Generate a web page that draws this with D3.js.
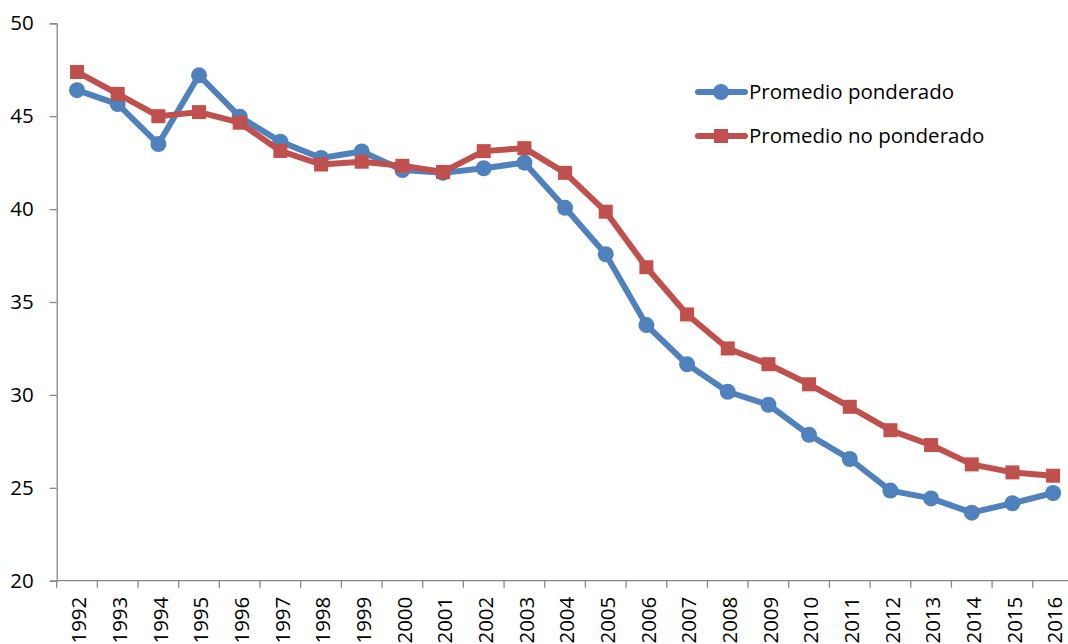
<!DOCTYPE html>
<html><head><meta charset="utf-8">
<script src="https://cdn.jsdelivr.net/npm/d3@7"></script>
<style>
body{margin:0;background:#fff;}
svg{display:block;font-family:"Open Sans",sans-serif;}
</style></head>
<body><svg id="c" width="1068" height="644"></svg>
<script>
const years = ["1992","1993","1994","1995","1996","1997","1998","1999","2000","2001","2002","2003","2004","2005","2006","2007","2008","2009","2010","2011","2012","2013","2014","2015","2016"];
const ponderado = [46.4,45.65,43.5,47.2,44.97,43.63,42.75,43.1,42.1,41.95,42.2,42.5,40.07,37.57,33.76,31.65,30.17,29.47,27.85,26.55,24.85,24.43,23.66,24.17,24.72];
const noPonderado = [47.38,46.2,45.0,45.22,44.65,43.13,42.4,42.55,42.33,42.0,43.12,43.28,41.95,39.86,36.87,34.33,32.5,31.65,30.57,29.36,28.1,27.3,26.26,25.83,25.65];
const yTicks = [20,25,30,35,40,45,50];
const seriesNames = ["Promedio ponderado","Promedio no ponderado"];
const colors = ["#4F81BD","#C0504D"];

const FONT = '"Open Sans",sans-serif';
const FS = 20.5;
const svg = d3.select("#c");
const x0 = 56.7, bw = 40.67;
const x = d3.scaleBand().domain(years).range([x0, x0 + bw*years.length]).padding(0);
const y = d3.scaleLinear().domain([20,50]).range([580.7, 23.3]);
const axisColor = "#868686";

// Y axis
const ya = svg.append("g").attr("transform",`translate(${x0},0)`)
  .call(d3.axisLeft(y).tickValues(yTicks).tickSize(7).tickPadding(16).tickFormat(d3.format("d")));
ya.select(".domain").attr("stroke",axisColor).attr("stroke-width",1.3);
ya.selectAll(".tick line").attr("stroke",axisColor).attr("stroke-width",1.3);
ya.selectAll(".tick text").attr("font-size",FS).attr("fill","#000").attr("font-family",FONT);

// X axis (ticks at band boundaries)
const xb = svg.append("g").attr("transform",`translate(0,${y(20)})`);
xb.append("line").attr("x1",x0).attr("x2",x0+bw*years.length).attr("stroke",axisColor).attr("stroke-width",1.3);
xb.selectAll("line.tk").data(years).join("line").attr("class","tk")
  .attr("x1",d=>x(d)).attr("x2",d=>x(d)).attr("y1",0).attr("y2",7)
  .attr("stroke",axisColor).attr("stroke-width",1.3);
xb.selectAll("text").data(years).join("text")
  .attr("transform",d=>`translate(${x(d)+x.bandwidth()/2+2},16) rotate(-90)`)
  .attr("text-anchor","end").attr("dy","0.35em")
  .attr("font-size",FS).attr("font-family",FONT).attr("fill","#000").text(d=>d);

const cx = d => x(d)+x.bandwidth()/2;
const line = d3.line().x((d,i)=>cx(years[i])).y(d=>y(d));

// Series
[ponderado, noPonderado].forEach((vals,si)=>{
  const g = svg.append("g");
  g.append("path").datum(vals).attr("d",line).attr("fill","none")
    .attr("stroke",colors[si]).attr("stroke-width",6).attr("stroke-linejoin","round").attr("stroke-linecap","round");
  if(si===0){
    g.selectAll("circle").data(vals).join("circle")
      .attr("cx",(d,i)=>cx(years[i])).attr("cy",d=>y(d)).attr("r",8).attr("fill",colors[si]);
  } else {
    g.selectAll("rect").data(vals).join("rect")
      .attr("x",(d,i)=>cx(years[i])-7).attr("y",d=>y(d)-7).attr("width",14).attr("height",14).attr("fill",colors[si]);
  }
});

// Legend
const legY = [92,136];
seriesNames.forEach((name,si)=>{
  const g = svg.append("g").attr("transform",`translate(0,${legY[si]})`);
  g.append("line").attr("x1",698).attr("x2",745).attr("y1",0).attr("y2",0)
    .attr("stroke",colors[si]).attr("stroke-width",6).attr("stroke-linecap","round");
  if(si===0) g.append("circle").attr("cx",721).attr("cy",0).attr("r",8).attr("fill",colors[si]);
  else g.append("rect").attr("x",714).attr("y",-7).attr("width",14).attr("height",14).attr("fill",colors[si]);
  g.append("text").attr("x",749).attr("y",0).attr("dy","0.35em").attr("font-size",FS).attr("font-family",FONT).attr("fill","#000").text(name);
});
</script></body></html>
